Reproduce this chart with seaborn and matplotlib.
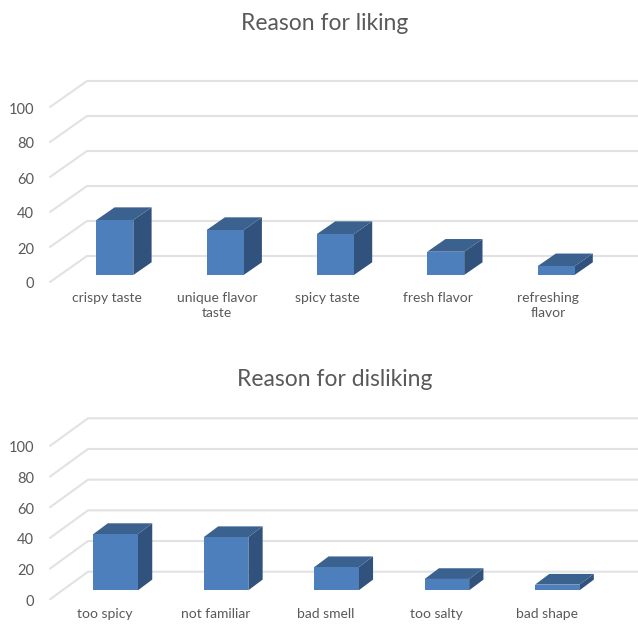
import matplotlib
matplotlib.use("Agg")
import matplotlib.pyplot as plt
from matplotlib.patches import Polygon
import pandas as pd
import seaborn as sns

# Survey results
like_labels = ["crispy taste", "unique flavor\ntaste", "spicy taste", "fresh flavor", "refreshing\nflavor"]
like_values = [31.4, 25.7, 23.4, 13.3, 5.0]
dislike_labels = ["too spicy", "not familiar", "bad smell", "too salty", "bad shape"]
dislike_values = [36.7, 34.7, 15.1, 7.4, 3.7]
y_ticks = [0, 20, 40, 60, 80, 100]

FRONT, TOP, SIDE = "#4d7fbc", "#3b628f", "#31527c"
GRID, TEXT = "#e2e2e2", "#595959"
W, H = 638, 625

sns.set_theme(style="white")
plt.rcParams["font.family"] = ["Lato", "DejaVu Sans"]

fig = plt.figure(figsize=(W / 100, H / 100), dpi=100, facecolor="white")


def panel(title, title_xy, labels, values, first_center, spacing, bar_px,
          base_y, px_per_unit, wall_dx, wall_dy, floor_front, depth_dx, depth_dy,
          label_shift, label_pad, bottom_y, top_y):
    """Draw one pseudo-3D column chart; the geometry arguments are in figure pixels."""
    left, right = 50, W
    ax = fig.add_axes([left / W, 1 - bottom_y / H, (right - left) / W, (bottom_y - top_y) / H])
    frame = pd.DataFrame({"reason": labels, "share": values})
    sns.barplot(data=frame, x="reason", y="share", order=labels, color=FRONT, saturation=1,
                width=bar_px / spacing, ax=ax, zorder=3, linewidth=0)

    ax.set_xlim((left - first_center) / spacing, (right - first_center) / spacing)
    ax.set_ylim((base_y - bottom_y) / px_per_unit, (base_y - top_y) / px_per_unit)
    ax.patch.set_alpha(0)
    sns.despine(ax=ax, left=True, bottom=True, top=True, right=True)

    # Value offsets that place the wall and the front edge of the floor relative to the bars
    front_off = (base_y - floor_front) / px_per_unit
    back_off = (base_y - (floor_front - wall_dy)) / px_per_unit
    wall_x = (left + wall_dx - first_center) / spacing
    floor_x = (left - first_center) / spacing
    x_end = (right - first_center) / spacing
    for v in y_ticks:
        ax.plot([floor_x, wall_x, x_end], [v + front_off, v + back_off, v + back_off],
                color=GRID, lw=1.5, zorder=1, clip_on=False, solid_joinstyle="miter")

    # Side and top faces extruded from each bar
    ddx, ddy = depth_dx / spacing, depth_dy / px_per_unit
    for bar in ax.containers[0]:
        x0, x1, h = bar.get_x(), bar.get_x() + bar.get_width(), bar.get_height()
        ax.add_patch(Polygon([(x1, 0), (x1 + ddx, ddy), (x1 + ddx, h + ddy), (x1, h)],
                             facecolor=SIDE, edgecolor="none", zorder=2.6))
        ax.add_patch(Polygon([(x0, h), (x0 + ddx, h + ddy), (x1 + ddx, h + ddy), (x1, h)],
                             facecolor=TOP, edgecolor="none", zorder=2.6))

    ax.set_yticks([v + front_off - 1 / px_per_unit for v in y_ticks], [str(v) for v in y_ticks])
    ax.tick_params(axis="y", length=0, pad=11.5, labelsize=10.5, labelcolor=TEXT)
    ax.set_xticks([i - label_shift / spacing for i in range(len(labels))], labels)
    ax.tick_params(axis="x", length=0, pad=label_pad, labelsize=10, labelcolor=TEXT)
    for t in ax.get_xticklabels():
        t.set_linespacing(1.35)
    ax.set_xlabel("")
    ax.set_ylabel("")
    fig.text(title_xy[0] / W, 1 - title_xy[1] / H, title, ha="center", va="center",
             fontsize=16.5, color=TEXT)


panel("Reason for liking", (325, 24), like_labels, like_values,
      first_center=114.8, spacing=110.3, bar_px=37, base_y=275, px_per_unit=1.75,
      wall_dx=37, wall_dy=26, floor_front=282, depth_dx=18.3, depth_dy=12.7,
      label_shift=8, label_pad=5, bottom_y=285, top_y=78)
panel("Reason for disliking", (334.5, 380), dislike_labels, dislike_values,
      first_center=115.7, spacing=110.4, bar_px=44.5, base_y=590.3, px_per_unit=1.534,
      wall_dx=38, wall_dy=27.6, floor_front=599.3, depth_dx=14.3, depth_dy=10.7,
      label_shift=10.5, label_pad=5, bottom_y=601, top_y=416)

fig.savefig("out.png", dpi=100, facecolor="white")
